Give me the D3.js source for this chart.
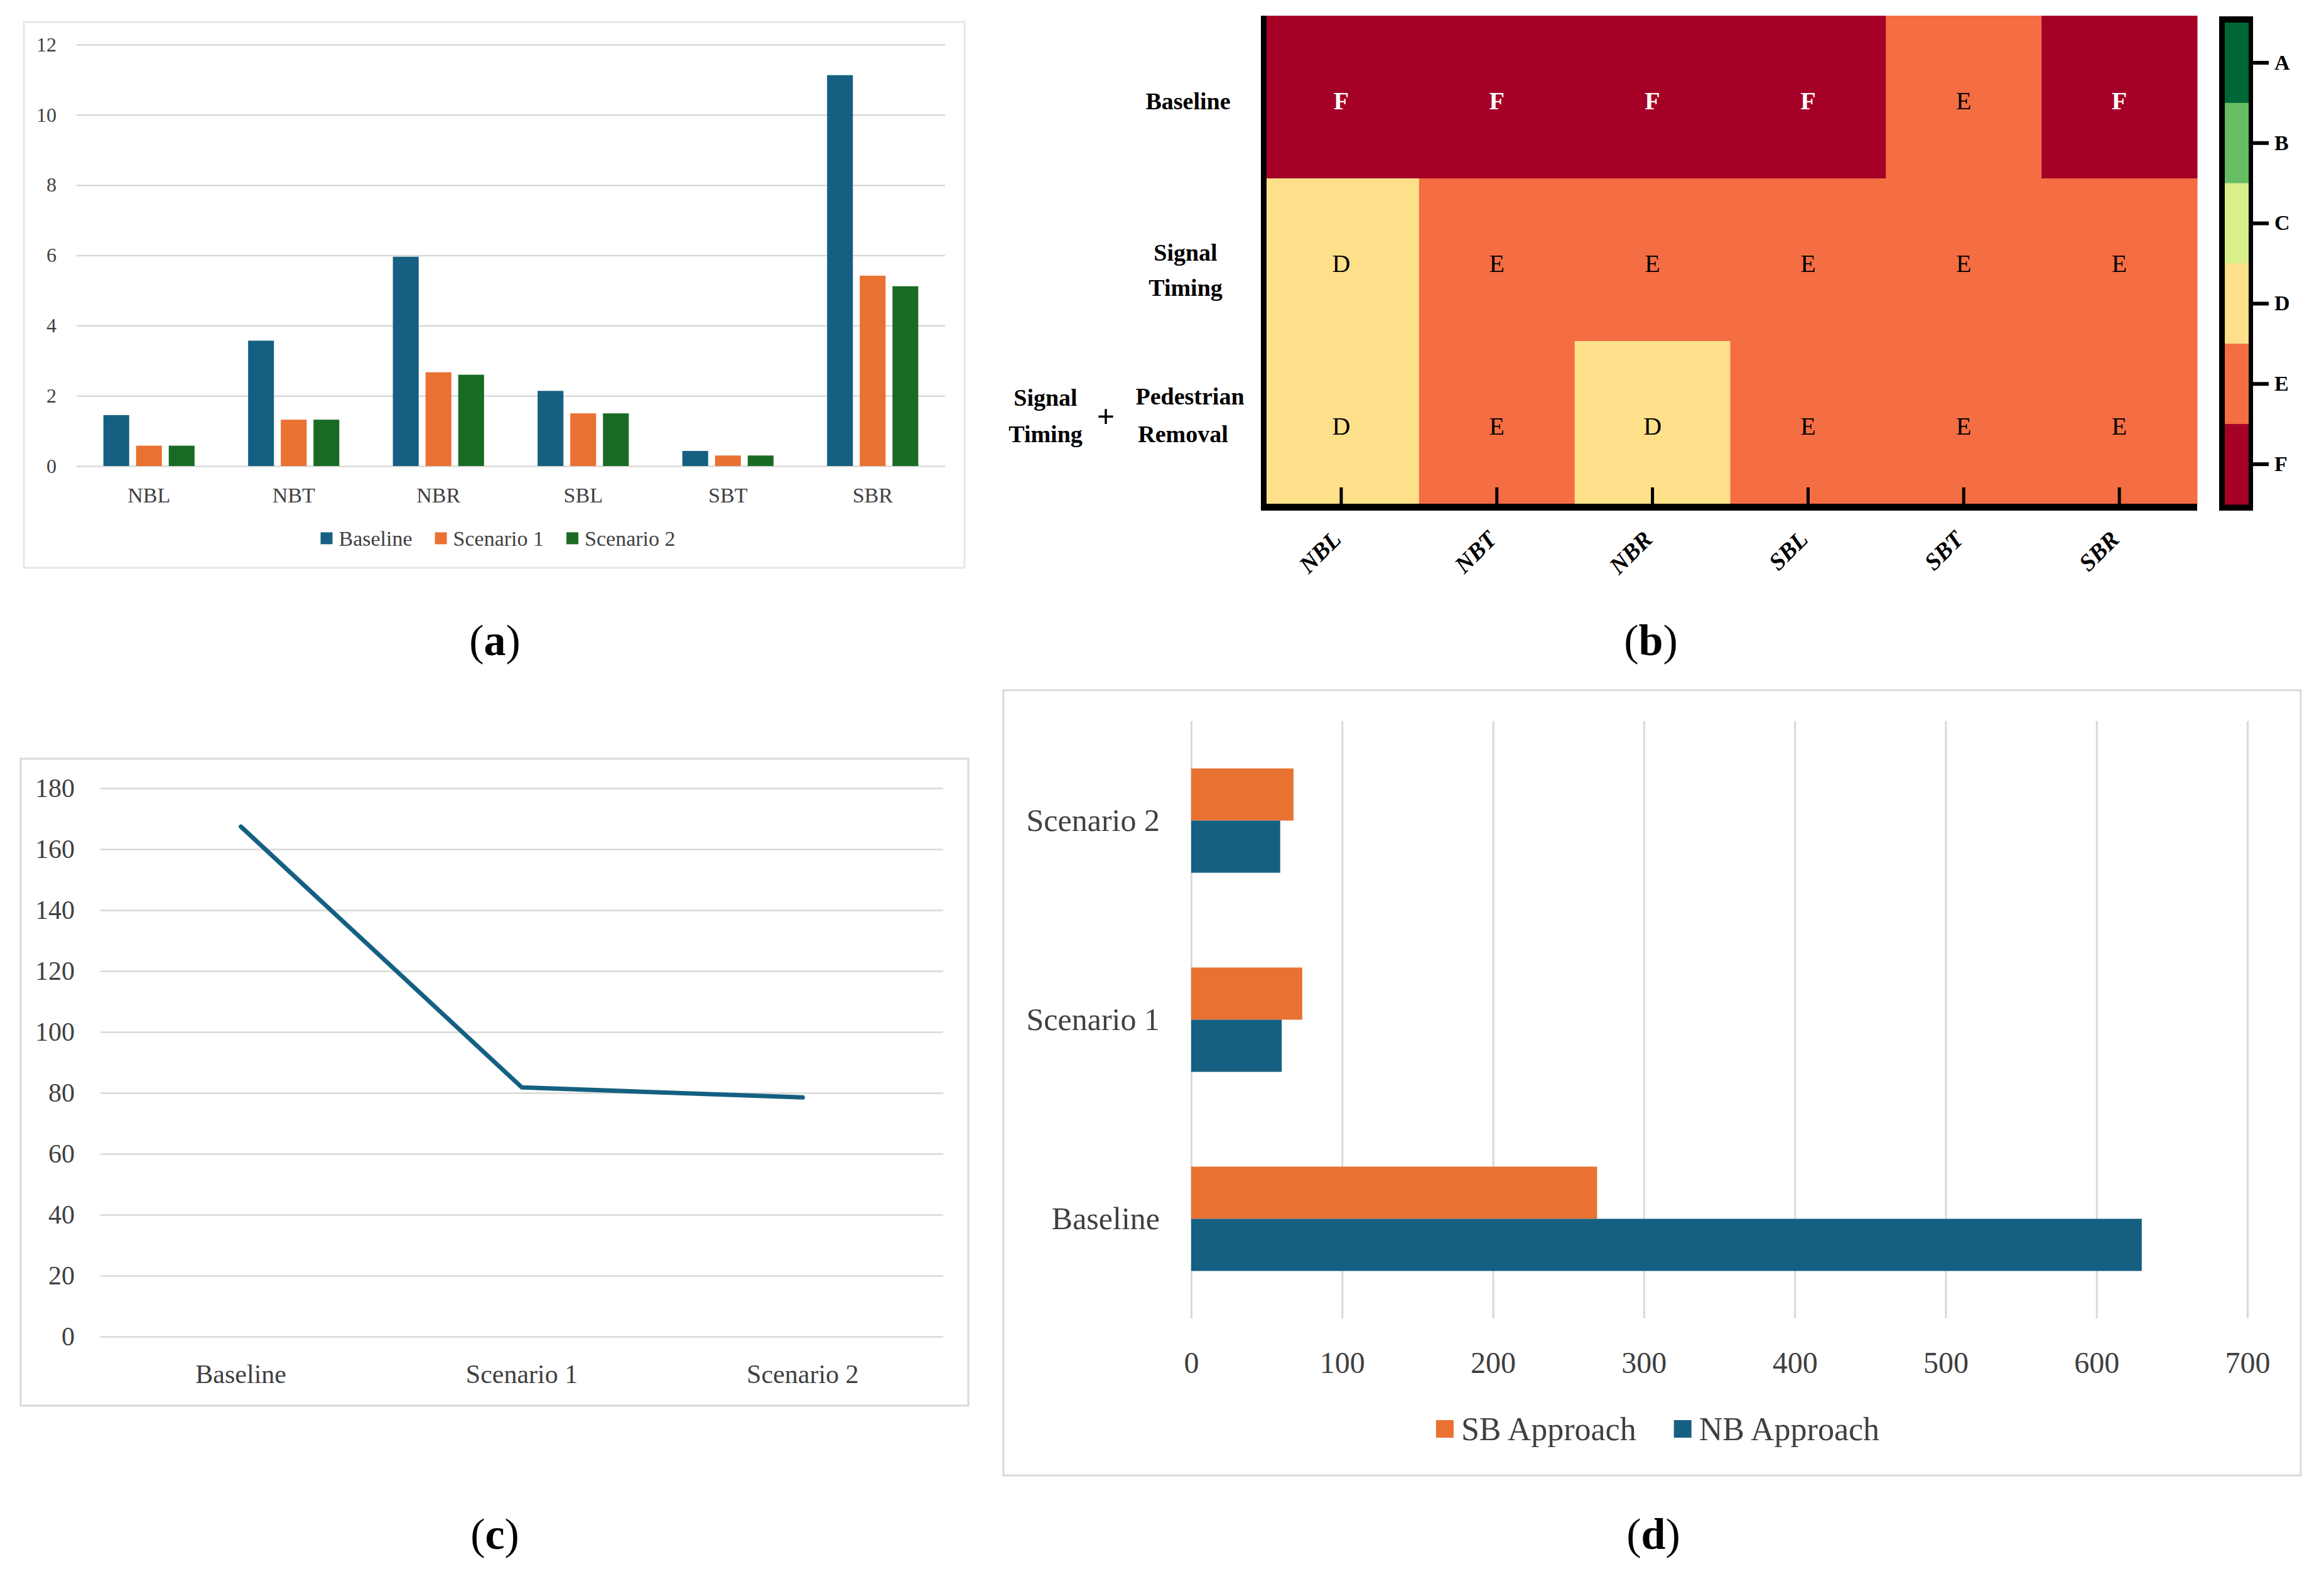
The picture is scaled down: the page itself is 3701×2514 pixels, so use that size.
<!DOCTYPE html>
<html>
<head>
<meta charset="utf-8">
<script src="https://cdn.jsdelivr.net/npm/d3@7/dist/d3.min.js"></script>
<style>
  html, body { margin: 0; padding: 0; background: #fff; }
  svg { display: block; }
</style>
</head>
<body>
<script>
// ---------------- DATA ----------------
// (a) delay per movement
const movements = ["NBL", "NBT", "NBR", "SBL", "SBT", "SBR"];
const barSeries = ["Baseline", "Scenario 1", "Scenario 2"];
const delayBaseline  = [1.45, 3.57, 5.96, 2.14, 0.43, 11.13];
const delayScenario1 = [0.58, 1.32, 2.67, 1.50, 0.30, 5.42];
const delayScenario2 = [0.58, 1.32, 2.60, 1.50, 0.30, 5.12];
const yTicksA = [0, 2, 4, 6, 8, 10, 12];

// (b) level of service heatmap
const losRows = ["Baseline", "Signal Timing", "Signal Timing + Pedestrian Removal"];
const losBaseline     = ["F", "F", "F", "F", "E", "F"];
const losSignalTiming = ["D", "E", "E", "E", "E", "E"];
const losSignalPed    = ["D", "E", "D", "E", "E", "E"];
const losGrades = ["A", "B", "C", "D", "E", "F"];

// (c) line chart
const scenarios = ["Baseline", "Scenario 1", "Scenario 2"];
const totalDelay = [167.4, 81.8, 78.5];
const yTicksC = [0, 20, 40, 60, 80, 100, 120, 140, 160, 180];

// (d) horizontal bars
const approachCats = ["Baseline", "Scenario 1", "Scenario 2"];
const approachSeries = ["SB Approach", "NB Approach"];
const sbApproach = [269, 73.6, 67.8];
const nbApproach = [630, 60, 59];
const xTicksD = [0, 100, 200, 300, 400, 500, 600, 700];

// ---------------- STYLE ----------------
const SERIF = "'Liberation Serif', 'Times New Roman', serif";
const BLUE = "#156082", ORANGE = "#e97132", GREEN = "#196b24";
const GRID = "#d9d9d9", TXT = "#404040";
const losColors = ["#006837", "#66bd63", "#d9ef8b", "#fee08b", "#f46d43", "#a50026"];

const W = 3701, H = 2514;
const svg = d3.select("body").append("svg").attr("width", W).attr("height", H)
  .attr("font-family", SERIF);
svg.append("rect").attr("width", W).attr("height", H).attr("fill", "#fff");

function styleAxis(g, size, color, weight) {
  g.select(".domain").remove();
  g.selectAll("text").attr("font-family", SERIF).attr("font-size", size)
    .attr("fill", color).attr("font-weight", weight || "normal");
}

function legend(g, items, x0, yc, sq, gap, itemGap, size) {
  let x = x0;
  items.forEach(it => {
    g.append("rect").attr("x", x).attr("y", yc - sq / 2).attr("width", sq).attr("height", sq).attr("fill", it.color);
    const t = g.append("text").attr("x", x + sq + gap).attr("y", yc).attr("dy", "0.35em")
      .attr("font-size", size).attr("fill", TXT).text(it.label);
    const len = t.node().getComputedTextLength();
    x += sq + gap + len + itemGap;
  });
  return x - itemGap - x0;
}

// ---------------- PANEL (a) ----------------
{
  const g = svg.append("g");
  g.append("rect").attr("x", 38).attr("y", 35).attr("width", 1498).attr("height", 869)
    .attr("fill", "none").attr("stroke", "#e6e6e6").attr("stroke-width", 3);
  const L = 122, R = 1505, T = 71, B = 742;
  const x = d3.scaleBand().domain(movements).range([L, R]);
  const bw = x.bandwidth();
  const x1 = d3.scaleBand().domain(barSeries).range([bw * 0.185, bw * 0.815]).paddingInner(0.21);
  const y = d3.scaleLinear().domain([0, 12]).range([B, T]);

  const ya = g.append("g").attr("transform", `translate(${L},0)`)
    .call(d3.axisLeft(y).tickValues(yTicksA).tickSize(-(R - L)).tickPadding(32));
  styleAxis(ya, 32, TXT);
  ya.selectAll("line").attr("stroke", GRID).attr("stroke-width", 2.5);

  const vals = [delayBaseline, delayScenario1, delayScenario2];
  const cols = [BLUE, ORANGE, GREEN];
  barSeries.forEach((s, si) => {
    g.append("g").selectAll("rect").data(vals[si]).join("rect")
      .attr("x", (d, i) => x(movements[i]) + x1(s))
      .attr("y", d => y(d))
      .attr("width", x1.bandwidth())
      .attr("height", d => y(0) - y(d))
      .attr("fill", cols[si]);
  });

  const xa = g.append("g").attr("transform", `translate(0,${B})`)
    .call(d3.axisBottom(x).tickSize(0).tickPadding(34));
  styleAxis(xa, 34, TXT);

  const lg = g.append("g");
  const wlen = legend(lg, barSeries.map((s, i) => ({ label: s, color: cols[i] })), 0, 857, 19, 10, 36, 34);
  lg.attr("transform", `translate(${793 - wlen / 2},0)`);
}

// ---------------- PANEL (b) ----------------
{
  const g = svg.append("g");
  const L = 2012, R = 3499, T = 25, B = 802;
  const x = d3.scaleBand().domain(movements).range([L, R]);
  const y = d3.scaleBand().domain(losRows).range([T, B]);
  const color = d3.scaleOrdinal().domain(losGrades).range(losColors);
  const losData = [losBaseline, losSignalTiming, losSignalPed];

  losRows.forEach((row, ri) => {
    const rg = g.append("g");
    rg.selectAll("rect").data(losData[ri]).join("rect")
      .attr("x", (d, i) => x(movements[i]))
      .attr("y", y(row))
      .attr("width", x.bandwidth() + 0.5)
      .attr("height", y.bandwidth() + 0.5)
      .attr("fill", d => color(d));
    rg.selectAll("text").data(losData[ri]).join("text")
      .attr("x", (d, i) => x(movements[i]) + x.bandwidth() / 2)
      .attr("y", y(row) + y.bandwidth() / 2 + 5)
      .attr("dy", "0.35em")
      .attr("text-anchor", "middle")
      .attr("font-size", 40)
      .attr("font-weight", d => d === "F" ? "bold" : "normal")
      .attr("fill", d => d === "F" ? "#fff" : "#000")
      .text(d => d);
  });

  // borders
  g.append("line").attr("x1", L + 0.5).attr("x2", L + 0.5).attr("y1", T).attr("y2", B + 11)
    .attr("stroke", "#000").attr("stroke-width", 9);
  g.append("line").attr("x1", L - 4).attr("x2", R).attr("y1", B + 5.5).attr("y2", B + 5.5)
    .attr("stroke", "#000").attr("stroke-width", 11);

  // ticks + rotated labels
  const xa = g.append("g").attr("transform", `translate(0,${B})`)
    .call(d3.axisBottom(x).tickSize(-26).tickPadding(0));
  xa.select(".domain").remove();
  xa.selectAll("line").attr("stroke", "#000").attr("stroke-width", 5);
  xa.selectAll("text")
    .attr("y", 0).attr("dy", 0)
    .attr("transform", "translate(2,59) rotate(-45)")
    .attr("text-anchor", "end")
    .attr("font-family", SERIF).attr("font-size", 38).attr("font-weight", "bold")
    .attr("font-style", "italic").attr("fill", "#000");

  // row labels
  const lab = (txt, xx, yy) => g.append("text").attr("x", xx).attr("y", yy).attr("dy", "0.35em")
    .attr("text-anchor", "middle").attr("font-size", 38).attr("font-weight", "bold").attr("fill", "#000").text(txt);
  const c0 = y(losRows[0]) + y.bandwidth() / 2;
  const c1 = y(losRows[1]) + y.bandwidth() / 2;
  const c2 = y(losRows[2]) + y.bandwidth() / 2;
  lab("Baseline", 1892, c0 + 6);
  lab("Signal", 1888, c1 - 12);
  lab("Timing", 1888, c1 + 44);
  lab("Signal", 1665, c2 - 40);
  lab("Timing", 1665, c2 + 18);
  g.append("text").attr("x", 1761).attr("y", c2 - 10).attr("dy", "0.35em").attr("text-anchor", "middle")
    .attr("font-size", 50).attr("font-weight", "bold").attr("fill", "#000").text("+");
  lab("Pedestrian", 1895, c2 - 42);
  lab("Removal", 1884, c2 + 18);

  // colour bar
  const cb = d3.scaleBand().domain(losGrades).range([36, 803]);
  g.append("rect").attr("x", 3534).attr("y", 26).attr("width", 54).attr("height", 787).attr("fill", "#000");
  g.append("g").selectAll("rect").data(losGrades).join("rect")
    .attr("x", 3543).attr("y", d => cb(d)).attr("width", 38).attr("height", cb.bandwidth() + 0.5)
    .attr("fill", d => color(d));
  const ca = g.append("g").attr("transform", "translate(3588,0)")
    .call(d3.axisRight(cb).tickSize(25).tickPadding(9));
  ca.select(".domain").remove();
  ca.selectAll("line").attr("stroke", "#000").attr("stroke-width", 6);
  ca.selectAll("text").attr("font-family", SERIF).attr("font-size", 34).attr("font-weight", "bold").attr("fill", "#000");
}

// ---------------- PANEL (c) ----------------
{
  const g = svg.append("g");
  g.append("rect").attr("x", 33).attr("y", 1208).attr("width", 1509).attr("height", 1030)
    .attr("fill", "none").attr("stroke", "#d9d9d9").attr("stroke-width", 3);
  const L = 160, R = 1502, T = 1255, B = 2128;
  const x = d3.scaleBand().domain(scenarios).range([L, R]);
  const y = d3.scaleLinear().domain([0, 180]).range([B, T]);
  const ya = g.append("g").attr("transform", `translate(${L},0)`)
    .call(d3.axisLeft(y).tickValues(yTicksC).tickSize(-(R - L)).tickPadding(41));
  styleAxis(ya, 42, TXT);
  ya.selectAll("line").attr("stroke", GRID).attr("stroke-width", 2.5);

  const xa = g.append("g").attr("transform", `translate(0,${B})`)
    .call(d3.axisBottom(x).tickSize(0).tickPadding(44));
  styleAxis(xa, 42, TXT);

  const line = d3.line()
    .x((d, i) => x(scenarios[i]) + x.bandwidth() / 2)
    .y(d => y(d));
  g.append("path").datum(totalDelay).attr("d", line)
    .attr("fill", "none").attr("stroke", BLUE).attr("stroke-width", 7)
    .attr("stroke-linejoin", "round").attr("stroke-linecap", "round");
}

// ---------------- PANEL (d) ----------------
{
  const g = svg.append("g");
  g.append("rect").attr("x", 1598).attr("y", 1099).attr("width", 2066).attr("height", 1250)
    .attr("fill", "none").attr("stroke", "#d9d9d9").attr("stroke-width", 3);
  const L = 1897, R = 3579, T = 1148, B = 2099;
  const x = d3.scaleLinear().domain([0, 700]).range([L, R]);
  const y = d3.scaleBand().domain(approachCats).range([B, T]);
  const bw = y.bandwidth();
  const y1 = d3.scaleBand().domain(approachSeries).range([bw * 0.238, bw * 0.762]);

  const xa = g.append("g").attr("transform", `translate(0,${B})`)
    .call(d3.axisBottom(x).tickValues(xTicksD).tickSize(-(B - T)).tickPadding(53));
  styleAxis(xa, 48, TXT);
  xa.selectAll("line").attr("stroke", GRID).attr("stroke-width", 3);

  const vals = [sbApproach, nbApproach];
  const cols = [ORANGE, BLUE];
  approachSeries.forEach((s, si) => {
    g.append("g").selectAll("rect").data(vals[si]).join("rect")
      .attr("x", x(0))
      .attr("y", (d, i) => y(approachCats[i]) + y1(s))
      .attr("width", d => x(d) - x(0))
      .attr("height", y1.bandwidth())
      .attr("fill", cols[si]);
  });

  const ya = g.append("g").attr("transform", `translate(${L},0)`)
    .call(d3.axisLeft(y).tickSize(0).tickPadding(50));
  styleAxis(ya, 50, TXT);

  const lg = g.append("g");
  const wlen = legend(lg, approachSeries.map((s, i) => ({ label: s, color: cols[i] })), 0, 2275, 28, 12, 60, 52);
  lg.attr("transform", `translate(${2640 - wlen / 2},0)`);
}

// ---------------- CAPTIONS ----------------
const captions = [
  { l: "a", x: 788, y: 1025 },
  { l: "b", x: 2629, y: 1025 },
  { l: "c", x: 788, y: 2448 },
  { l: "d", x: 2633, y: 2448 }
];
captions.forEach(c => {
  const t = svg.append("text").attr("x", c.x).attr("y", c.y + 18).attr("text-anchor", "middle")
    .attr("font-size", 70).attr("fill", "#000");
  t.append("tspan").text("(");
  t.append("tspan").attr("font-weight", "bold").text(c.l);
  t.append("tspan").text(")");
});
</script>
</body>
</html>
